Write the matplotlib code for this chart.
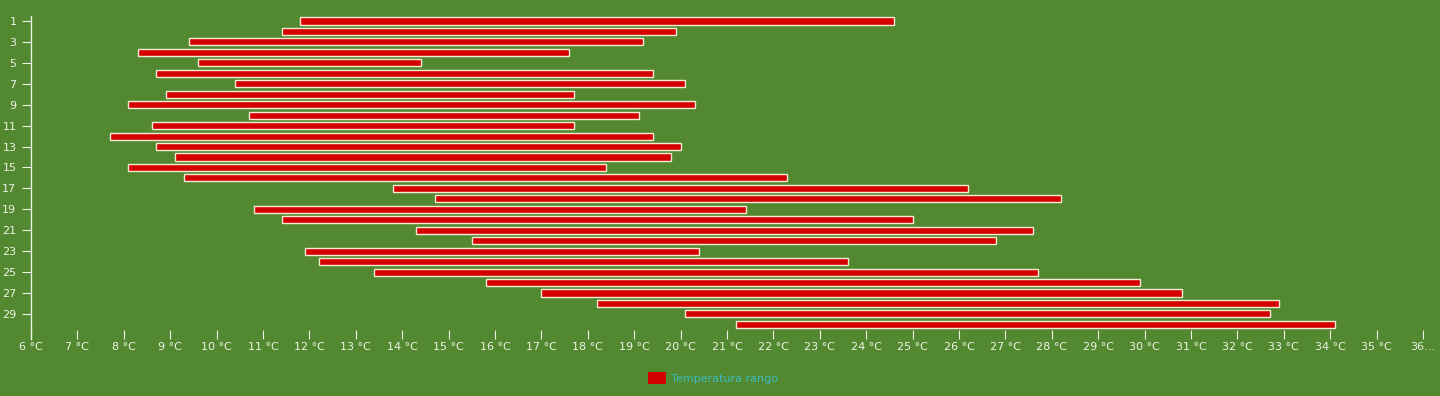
import matplotlib

matplotlib.use("Agg")
import matplotlib.pyplot as plt
from matplotlib.patches import Patch

# daily temperature range per day (°C)
days = list(range(1, 31))
t_min = [11.8, 11.4, 9.4, 8.3, 9.6, 8.7, 10.4, 8.9, 8.1, 10.7,
         8.6, 7.7, 8.7, 9.1, 8.1, 9.3, 13.8, 14.7, 10.8, 11.4,
         14.3, 15.5, 11.9, 12.2, 13.4, 15.8, 17.0, 18.2, 20.1, 21.2]
t_max = [24.6, 19.9, 19.2, 17.6, 14.4, 19.4, 20.1, 17.7, 20.3, 19.1,
         17.7, 19.4, 20.0, 19.8, 18.4, 22.3, 26.2, 28.2, 21.4, 25.0,
         27.6, 26.8, 20.4, 23.6, 27.7, 29.9, 30.8, 32.9, 32.7, 34.1]
x_ticks = list(range(6, 37))
x_labels = [f"{t} °C" for t in x_ticks[:-1]] + ["36…"]
y_ticks = days[::2]

BG = "#52882f"
BAR = "#d40000"
EDGE = "#f4ecd6"
TXT = "#eef3e6"
LEGEND_TXT = "#3cbcc0"

fig = plt.figure(figsize=(14.4, 3.96), dpi=100, facecolor=BG)
ax = fig.add_axes([31 / 1440, 1 - 339 / 396, (1423 - 31) / 1440, (339 - 16) / 396])
ax.set_facecolor(BG)

widths = [hi - lo for lo, hi in zip(t_min, t_max)]
ax.barh(days, widths, left=t_min, height=0.68, color=BAR,
        edgecolor=EDGE, linewidth=1.0)

ax.set_xlim(6, 36)
ax.set_ylim(31.4, 0.52)

for side in ("top", "right", "bottom"):
    ax.spines[side].set_visible(False)
ax.spines["left"].set_color(TXT)
ax.spines["left"].set_linewidth(1.0)

ax.set_xticks(x_ticks)
ax.set_xticklabels(x_labels)
ax.set_yticks(y_ticks)
ax.set_yticklabels([str(d) for d in y_ticks])
ax.tick_params(axis="x", direction="in", length=6.5, width=0.8, color=TXT,
               labelcolor=TXT, labelsize=8, pad=2.5)
ax.tick_params(axis="y", direction="out", length=6.5, width=0.8, color=TXT,
               labelcolor=TXT, labelsize=8, pad=4)

handles = [Patch(facecolor=BAR, edgecolor="none", label="Temperatura rango")]
leg = fig.legend(handles=handles, loc="center", bbox_to_anchor=(713 / 1440, 1 - 378 / 396),
                 frameon=False, fontsize=8, handlelength=1.6, handleheight=1.4,
                 handletextpad=0.5)
for t in leg.get_texts():
    t.set_color(LEGEND_TXT)

fig.savefig("out.png", dpi=100, facecolor=BG)
